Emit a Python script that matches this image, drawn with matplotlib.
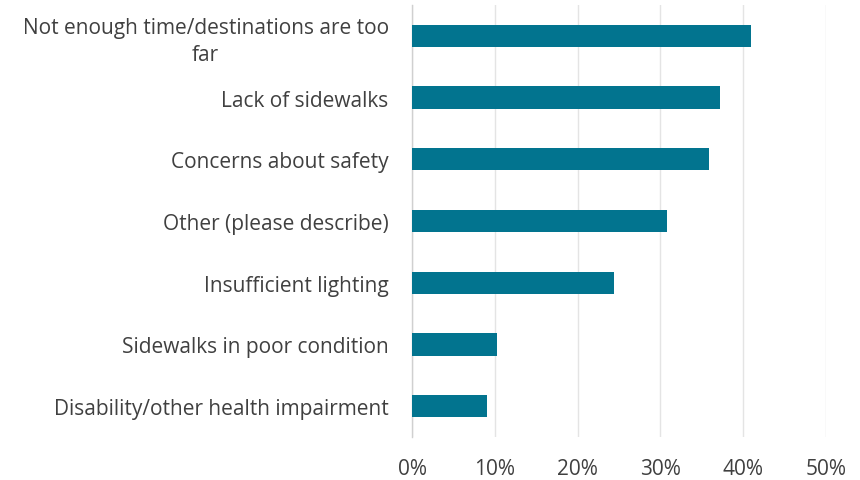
import matplotlib
matplotlib.use("Agg")
import matplotlib.pyplot as plt
from matplotlib.ticker import PercentFormatter

categories = [
    "Not enough time/destinations are too\nfar",
    "Lack of sidewalks",
    "Concerns about safety",
    "Other (please describe)",
    "Insufficient lighting",
    "Sidewalks in poor condition",
    "Disability/other health impairment",
]
values = [41.0, 37.2, 35.9, 30.8, 24.4, 10.2, 9.0]
x_ticks = [0, 10, 20, 30, 40, 50]

bar_color = "#02748F"
text_color = "#404040"
grid_color = "#E4E4E4"

plt.rcParams["font.family"] = ["Open Sans", "DejaVu Sans"]

fig = plt.figure(figsize=(8.6, 4.81), dpi=100)
ax = fig.add_axes([0.4794, 0.0894, 0.4807, 0.8981])

positions = list(range(len(categories)))
ax.barh(positions, values, height=0.36, color=bar_color, zorder=3)

ax.set_ylim(len(categories) - 0.5, -0.5)
ax.set_xlim(0, 50)
ax.set_xticks(x_ticks)
ax.xaxis.set_major_formatter(PercentFormatter(decimals=0))
ax.set_yticks(positions)
ax.set_yticklabels(categories)
for lbl in ax.get_yticklabels():
    lbl.set_multialignment("center")
    lbl.set_linespacing(1.35)

ax.tick_params(axis="both", length=0, labelsize=15, colors=text_color)
ax.tick_params(axis="y", pad=17)
ax.tick_params(axis="x", pad=15)

ax.grid(axis="x", color=grid_color, linewidth=1, zorder=0)
for side in ["top", "right", "bottom"]:
    ax.spines[side].set_visible(False)
ax.spines["left"].set_color("#D0D0D0")
ax.spines["left"].set_linewidth(1)

fig.savefig("out.png", dpi=100, facecolor="white")
